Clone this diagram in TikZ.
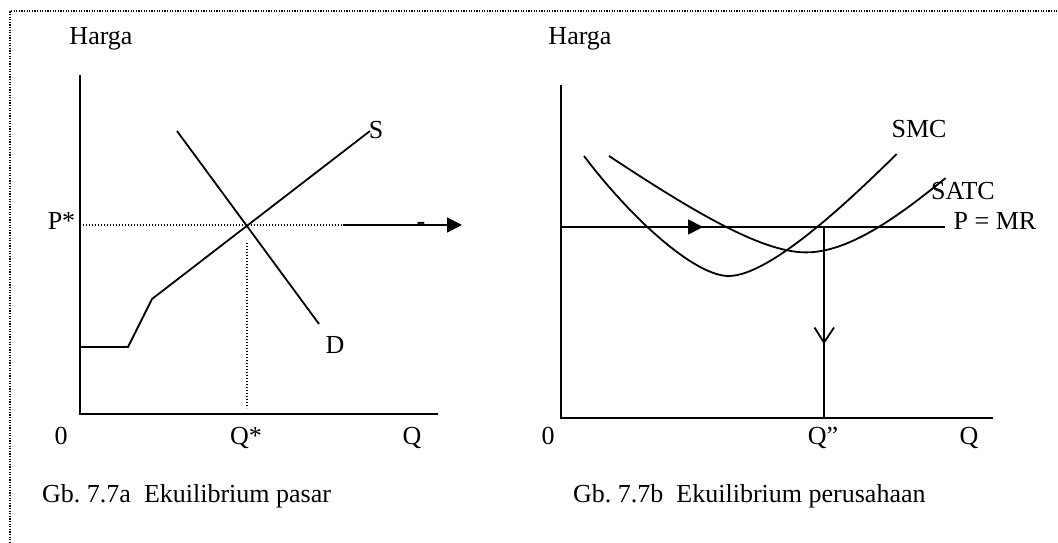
\documentclass[tikz,border=0pt]{standalone}
\usepackage{fontspec}
\setmainfont{Liberation Serif}
\frenchspacing
\usetikzlibrary{arrows.meta}
\tikzset{
  lbl/.style={inner sep=0pt, anchor=base, font=\fontsize{26}{30}\selectfont},
  captxt/.style={inner sep=0pt, anchor=base west, font=\fontsize{26}{30}\selectfont},
  axis/.style={line width=2.1pt},
  curve/.style={line width=1.8pt},
  dotline/.style={line width=1.3pt, dash pattern=on 1.2pt off 1.8pt},
  frameline/.style={line width=1.1pt, dash pattern=on 1.2pt off 1.4pt},
  headtri/.style={-{Triangle[length=15pt,width=15pt]}},
}
\begin{document}
\begin{tikzpicture}[x=1pt,y=-1pt]
\useasboundingbox (0,0) rectangle (1058,543);
% frame
\coordinate (fL) at (10,543);
\coordinate (fTL) at (10,11);
\coordinate (fTR) at (1058,11);
\draw[frameline] (fL) -- (fTL) -- (fTR);

% ---------- left chart ----------
\coordinate (aO) at (80,414);
\coordinate (aT) at (80,75);
\coordinate (aR) at (438,414);
\draw[axis] (aT) -- (aO) -- (aR);
\coordinate (s0) at (80,347);
\coordinate (s1) at (128,347);
\coordinate (s2) at (152,299);
\coordinate (s3) at (370,131);
\draw[curve] (s0) -- (s1) -- (s2) -- (s3);
\coordinate (d0) at (177,131);
\coordinate (d1) at (319,324);
\draw[curve] (d0) -- (d1);
\coordinate (pl) at (83,225);
\coordinate (pm) at (343,225);
\coordinate (pr) at (462,225);
\draw[dotline] (pl) -- (pm);
\draw[curve,headtri] (pm) -- (pr);
\coordinate (qt) at (247,243);
\coordinate (qb) at (247,408);
\draw[dotline] (qt) -- (qb);

\node[lbl] (hargaL) at (101,45) {Harga};
\node[lbl] (pstar) at (61.5,229) {P*};
\node[lbl] (slbl) at (376,138) {S};
\node[lbl] (dlbl) at (335,353) {D};
\node[lbl] (minus) at (421,229) {-};
\node[lbl] (zeroL) at (61,444) {0};
\node[lbl] (qstar) at (246,444) {Q*};
\node[lbl] (qL) at (412,444) {Q};
\node[captxt] (capL) at (42,502) {Gb. 7.7a\ \ Ekuilibrium pasar};

% ---------- right chart ----------
\coordinate (bO) at (561,418);
\coordinate (bT) at (561,85);
\coordinate (bR) at (993,418);
\draw[axis] (bT) -- (bO) -- (bR);
\coordinate (mrL) at (561,227);
\coordinate (mrA) at (703,227);
\coordinate (mrR) at (945,227);
\draw[curve] (mrL) -- (mrR);
\draw[curve,headtri] (mrL) -- (mrA);
% SMC
\coordinate (smcA) at (584,156);
\coordinate (smcM) at (728.6,276);
\coordinate (smcB) at (896.7,154);
\draw[curve] (smcA) .. controls (634,222) and (696,276) .. (smcM)
  .. controls (770,276) and (850,200) .. (smcB);
% SATC
\coordinate (atcA) at (609,156);
\coordinate (atcM) at (806,252.4);
\coordinate (atcB) at (945.7,178);
\draw[curve] (atcA) .. controls (688,208) and (760,252.4) .. (atcM)
  .. controls (850,252.4) and (900,215) .. (atcB);
% Q'' drop line
\coordinate (qq1) at (824,227);
\coordinate (qq2) at (824,418);
\draw[curve] (qq1) -- (qq2);
\coordinate (vtip) at (824,342.6);
\coordinate (vl) at (814.5,327.5);
\coordinate (vr) at (834,327.5);
\draw[curve] (vl) -- (vtip) -- (vr);

\node[lbl] (hargaR) at (580,45) {Harga};
\node[lbl] (smclbl) at (919,137) {SMC};
\node[lbl] (satclbl) at (963,199) {SATC};
\node[lbl] (pmrlbl) at (995,229) {P = MR};
\node[lbl] (zeroR) at (548,444) {0};
\node[lbl] (qdd) at (823,444) {Q”};
\node[lbl] (qR) at (969,444) {Q};
\node[captxt] (capR) at (573,502) {Gb. 7.7b\ \ Ekuilibrium perusahaan};
\end{tikzpicture}
\end{document}
